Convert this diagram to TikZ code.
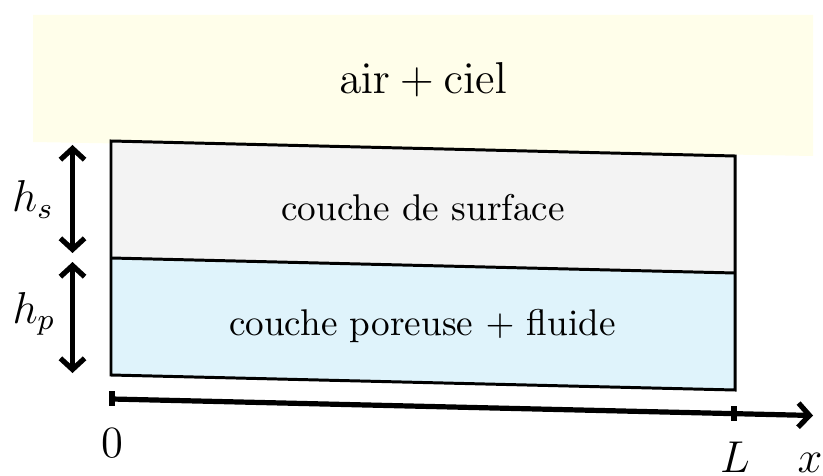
\documentclass[tikz,border=0pt]{standalone}
\usetikzlibrary{arrows.meta}
\definecolor{skyyellow}{HTML}{FFFEEA}
\definecolor{surfgrey}{HTML}{F3F3F3}
\definecolor{porblue}{HTML}{DFF3FB}
\tikzset{
  layerborder/.style={draw=black, line width=0.8pt, line join=miter},
  dimarrow/.style={line width=1.4pt, {Straight Barb[length=3pt,width=6.5pt,line width=1.4pt]}-{Straight Barb[length=3pt,width=6.5pt,line width=1.4pt]}},
  axisarrow/.style={line width=1.4pt, -{Straight Barb[length=3pt,width=6.5pt,line width=1.4pt]}},
  lbl/.style={inner sep=0pt, anchor=base, font=\fontsize{12}{14}\selectfont},
  layertext/.style={inner sep=0pt, anchor=base, font=\fontsize{10}{12}\selectfont}
}
\begin{document}
\begin{tikzpicture}[x=0.2688pt, y=-0.2688pt]
\useasboundingbox (0,0) rectangle (823,475);
% sky
\fill[skyyellow] (33,15) -- (813,15) -- (813,156) -- (33,142) -- cycle;
% corners
\coordinate (TL) at (111,141);
\coordinate (TR) at (735,156);
\coordinate (ML) at (111,258);
\coordinate (MR) at (735,273);
\coordinate (BL) at (111,375);
\coordinate (BR) at (735,390);
\fill[surfgrey] (TL) -- (TR) -- (MR) -- (ML) -- cycle;
\fill[porblue] (ML) -- (MR) -- (BR) -- (BL) -- cycle;
\draw[layerborder] (TL) -- (TR) -- (BR) -- (BL) -- cycle;
\draw[layerborder] (ML) -- (MR);
% texts
\node[lbl, font=\fontsize{11.5}{13}\selectfont] (air) at (423,94) {$\mathrm{air}+\mathrm{ciel}$};
\node[layertext] (surf) at (423,221) {couche de surface};
\node[layertext] (por) at (422.5,335) {couche poreuse $+$ fluide};
% dimension arrows
\coordinate (hsT) at (72.5,145);
\coordinate (hsB) at (72.5,253);
\coordinate (hpT) at (72.5,262);
\coordinate (hpB) at (72.5,373);
\draw[dimarrow] (hsT) -- (hsB);
\draw[dimarrow] (hpT) -- (hpB);
\node[lbl] (hs) at (33,212) {$h_s$};
\node[lbl] (hp) at (34,323) {$h_p$};
% axis
\coordinate (A0) at (112,399);
\coordinate (Aend) at (813,415.5);
\coordinate (AL) at (734,413.3);
\draw[axisarrow] (A0) -- (Aend);
\draw[line width=1.4pt] (112,391) -- (112,406);
\draw[line width=1.4pt] (734,406) -- (734,421);
\node[lbl] (zero) at (112,457) {$0$};
\node[lbl] (L) at (735,472) {$L$};
\node[lbl] (x) at (810,472) {$x$};
\end{tikzpicture}
\end{document}
